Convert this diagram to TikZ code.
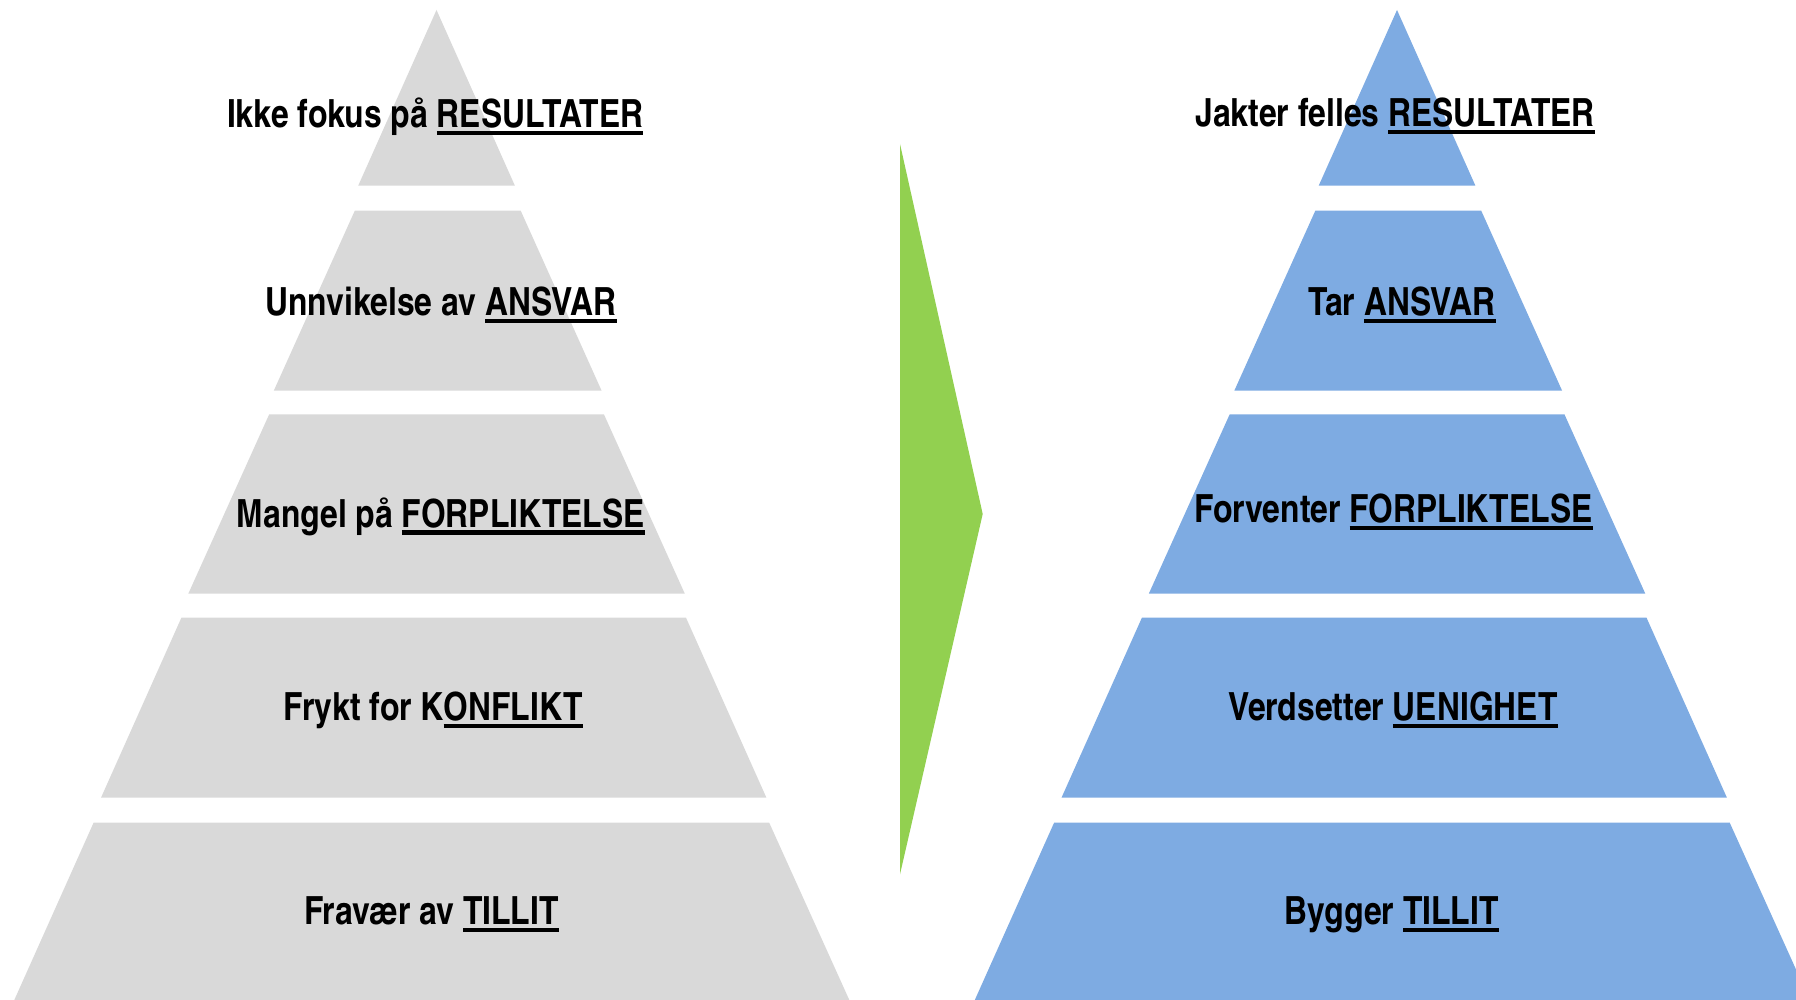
\documentclass[tikz,border=0pt]{standalone}
\usepackage{fontspec}
\setmainfont{TeX Gyre Heros Cn}

\definecolor{bandgray}{HTML}{D9D9D9}
\definecolor{bandblue}{HTML}{7EABE2}
\definecolor{arrowgreen}{HTML}{92D050}

\newcommand{\uword}[1]{\sbox0{#1}\rlap{\rule[-2.1pt]{\wd0}{1.2pt}}\usebox0}

\tikzset{
    lbl/.style={anchor=base, inner sep=0pt, font=\bfseries\fontsize{11.05}{13}\selectfont},
}

\begin{document}
\begin{tikzpicture}
    		\newcommand{\pyroff}{9.605}

    		\useasboundingbox (0,0) rectangle (17.96,10);
    		\clip (0,0) rectangle (17.96,10);

    		% left pyramid
    		\fill[bandgray] (4.365,9.900) -- (5.149,8.143) -- (3.582,8.143) -- cycle;
    		\fill[bandgray] (3.548,7.893) -- (5.207,7.893) -- (6.016,6.093) -- (2.738,6.093) -- cycle;
    		\fill[bandgray] (2.692,5.857) -- (6.039,5.857) -- (6.848,4.063) -- (1.883,4.063) -- cycle;
    		\fill[bandgray] (1.814,3.823) -- (6.860,3.823) -- (7.664,2.023) -- (1.010,2.023) -- cycle;
    		\fill[bandgray] (0.936,1.773) -- (7.692,1.773) -- (8.493,0) -- (0.143,0) -- cycle;

    		% right pyramid
    		\fill[bandblue] (\pyroff+4.365,9.900) -- (\pyroff+5.149,8.143) -- (\pyroff+3.582,8.143) -- cycle;
    		\fill[bandblue] (\pyroff+3.548,7.893) -- (\pyroff+5.207,7.893) -- (\pyroff+6.016,6.093) -- (\pyroff+2.738,6.093) -- cycle;
    		\fill[bandblue] (\pyroff+2.692,5.857) -- (\pyroff+6.039,5.857) -- (\pyroff+6.848,4.063) -- (\pyroff+1.883,4.063) -- cycle;
    		\fill[bandblue] (\pyroff+1.814,3.823) -- (\pyroff+6.860,3.823) -- (\pyroff+7.664,2.023) -- (\pyroff+1.010,2.023) -- cycle;
    		\fill[bandblue] (\pyroff+0.936,1.773) -- (\pyroff+7.692,1.773) -- (\pyroff+8.493,0) -- (\pyroff+0.143,0) -- cycle;

    		% arrow
    		\fill[arrowgreen] (9.000,8.560) -- (9.827,4.860) -- (9.000,1.257) -- cycle;

    		% labels left
    		\node[lbl] (resl) at (4.353,8.723) {Ikke fokus på \uword{RESULTATER}};
    		\node[lbl] (ansl) at (4.410,6.840) {Unnvikelse av \uword{ANSVAR}};
    		\node[lbl] (forl) at (4.410,4.727) {Mangel på \uword{FORPLIKTELSE}};
    		\node[lbl] (konl) at (4.330,2.793) {Frykt for K\uword{ONFLIKT}};
    		\node[lbl] (till) at (4.313,0.750) {Fravær av \uword{TILLIT}};

    		% labels right
    		\node[lbl] (resr) at (13.951,8.733) {Jakter felles \uword{RESULTATER}};
    		\node[lbl] (ansr) at (14.020,6.840) {Tar \uword{ANSVAR}};
    		\node[lbl] (forr) at (13.934,4.773) {Forventer \uword{FORPLIKTELSE}};
    		\node[lbl] (uenr) at (13.928,2.793) {Verdsetter \uword{UENIGHET}};
    		\node[lbl] (tilr) at (13.917,0.750) {Bygger \uword{TILLIT}};

\end{tikzpicture}
\end{document}
